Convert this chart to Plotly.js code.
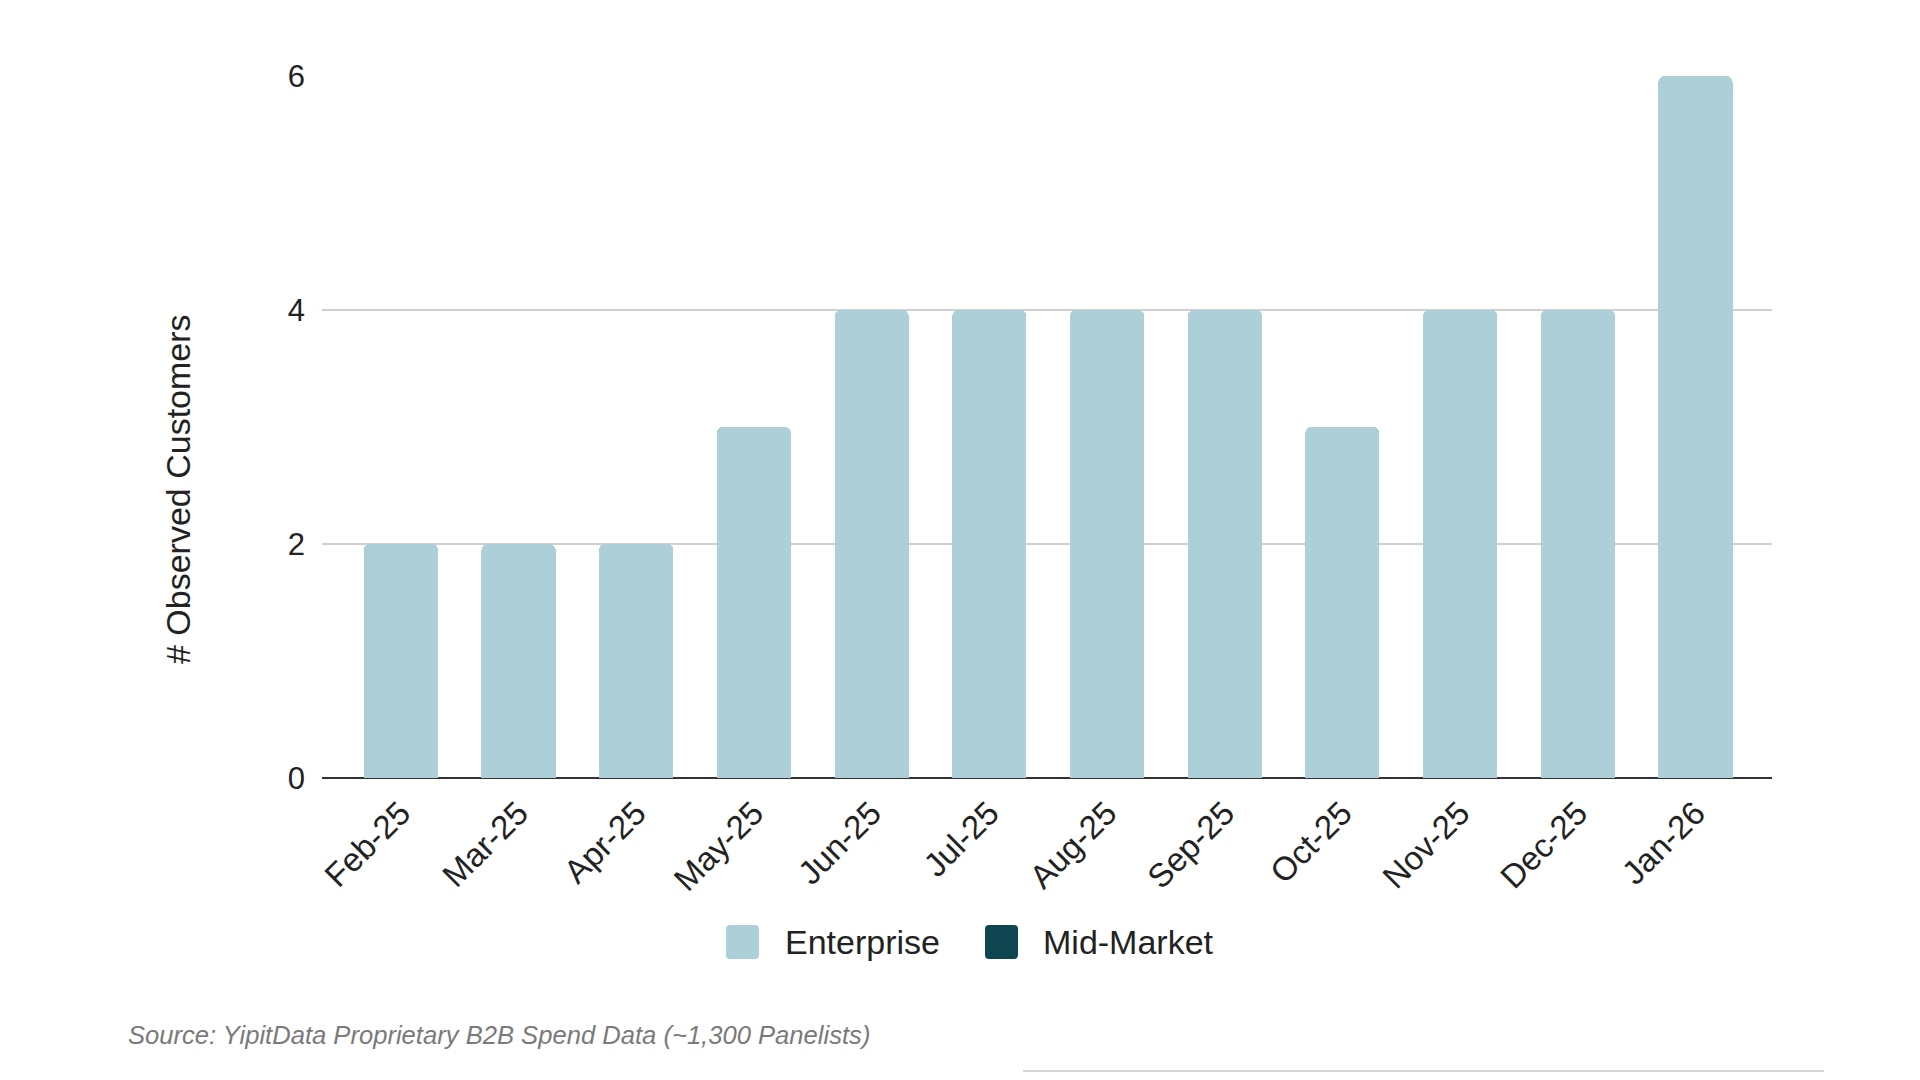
<!DOCTYPE html>
<html>
<head>
<meta charset="utf-8">
<script src="https://cdn.plot.ly/plotly-3.0.1.min.js"></script>
<style>
html,body{margin:0;padding:0;background:#fff;}
#chart{width:1920px;height:1080px;}
</style>
</head>
<body>
<div id="chart"></div>
<script>
const months = ["Feb-25","Mar-25","Apr-25","May-25","Jun-25","Jul-25","Aug-25","Sep-25","Oct-25","Nov-25","Dec-25","Jan-26"];
const enterprise = [2,2,2,3,4,4,4,4,3,4,4,6];
const midMarket = [0,0,0,0,0,0,0,0,0,0,0,0];
const yTicks = [0,2,4,6];
const seriesNames = ["Enterprise","Mid-Market"];
const seriesColors = ["#adcfd8","#0e4550"];
const yTitle = "# Observed Customers";
const sourceText = "Source: YipitData Proprietary B2B Spend Data (~1,300 Panelists)";

const FONT = "Liberation Sans, Arial, sans-serif";

// plot area in pixels, used to place layout items in paper coords
const L = 322, R = 1772, T = 76, B = 778;
const W = R - L, H = B - T;
const px = x => (x - L) / W;
const py = y => (B - y) / H;

const traces = [
  {type:"bar", name:seriesNames[0], x:months, y:enterprise, marker:{color:seriesColors[0]}, showlegend:false},
  {type:"bar", name:seriesNames[1], x:months, y:midMarket, marker:{color:seriesColors[1]}, showlegend:false}
];

function roundRectPath(x0, y0, x1, y1, r) {
  // pixel coords -> paper coords path with rounded corners
  const X = v => px(v).toFixed(5), Y = v => py(v).toFixed(5);
  return "M" + X(x0 + r) + "," + Y(y0) +
    " L" + X(x1 - r) + "," + Y(y0) + " Q" + X(x1) + "," + Y(y0) + " " + X(x1) + "," + Y(y0 + r) +
    " L" + X(x1) + "," + Y(y1 - r) + " Q" + X(x1) + "," + Y(y1) + " " + X(x1 - r) + "," + Y(y1) +
    " L" + X(x0 + r) + "," + Y(y1) + " Q" + X(x0) + "," + Y(y1) + " " + X(x0) + "," + Y(y1 - r) +
    " L" + X(x0) + "," + Y(y0 + r) + " Q" + X(x0) + "," + Y(y0) + " " + X(x0 + r) + "," + Y(y0) + " Z";
}

const legendItems = [
  {sx0:726, sx1:759, tx:783},
  {sx0:985, sx1:1018, tx:1041}
];
const shapes = [];
const annotations = [];
legendItems.forEach((it,i)=>{
  shapes.push({type:"path", xref:"paper", yref:"paper", path:roundRectPath(it.sx0, 925, it.sx1, 959, 4),
    fillcolor:seriesColors[i], line:{width:0}});
  annotations.push({xref:"paper", yref:"paper", x:px(it.tx), y:py(942), xanchor:"left", yanchor:"middle",
    text:seriesNames[i], showarrow:false, font:{family:FONT, size:34, color:"#222"}});
});
annotations.push({xref:"paper", yref:"paper", x:px(178), y:py(489), xanchor:"center", yanchor:"middle",
  text:yTitle, textangle:-90, showarrow:false, font:{family:FONT, size:34, color:"#222"}});
annotations.push({xref:"paper", yref:"paper", x:px(126), y:py(1035), xanchor:"left", yanchor:"middle",
  text:"<i>"+sourceText+"</i>", showarrow:false, font:{family:FONT, size:25.6, color:"#7a7a7a"}});
shapes.push({type:"line", xref:"paper", yref:"paper", x0:px(1023), x1:px(1824), y0:py(1071), y1:py(1071),
  line:{color:"#d6d6d6", width:2}});

const layout = {
  width:1920, height:1080,
  paper_bgcolor:"#fff", plot_bgcolor:"#fff",
  margin:{l:L, r:1920-R, t:T, b:1080-B, pad:0},
  barmode:"stack",
  bargap:0.37,
  barcornerradius:6,
  showlegend:false,
  font:{family:FONT, color:"#222"},
  xaxis:{
    type:"category", range:[-0.67, 11.65], tickangle:-45,
    tickfont:{family:FONT, size:33, color:"#222"},
    showgrid:false, ticks:"", showline:false, zeroline:false,
    ticklabelstandoff:8,
    fixedrange:true
  },
  yaxis:{
    range:[0,6], tickvals:yTicks, ticktext:yTicks.map(String),
    tickfont:{family:FONT, size:31, color:"#222"},
    showgrid:true, gridcolor:"#d0d0d0", gridwidth:1.5,
    zeroline:true, zerolinecolor:"#333", zerolinewidth:2,
    ticks:"", showline:false, ticklabelstandoff:16,
    fixedrange:true
  },
  shapes:shapes,
  annotations:annotations
};

Plotly.newPlot("chart", traces, layout, {displayModeBar:false, staticPlot:true});
</script>
</body>
</html>
